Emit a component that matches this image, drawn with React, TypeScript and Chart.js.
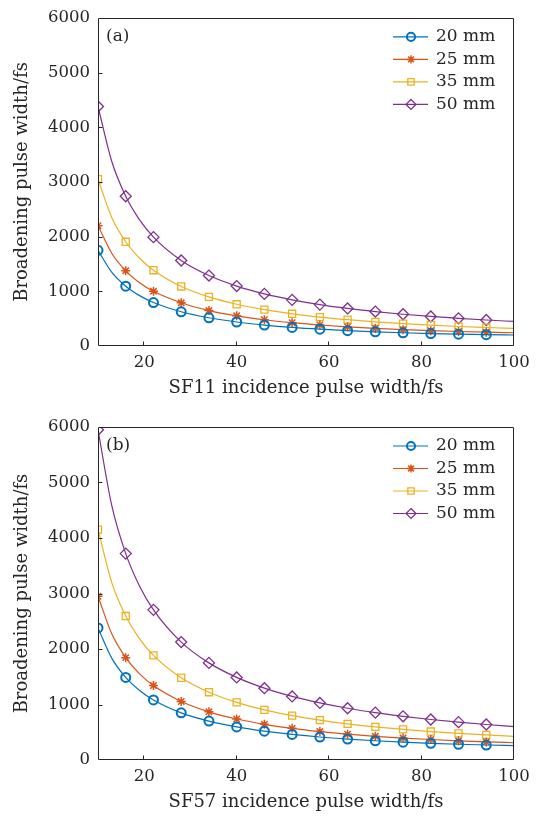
import React, { useEffect, useRef } from "react";
import { Chart, registerables } from "chart.js";

Chart.register(...registerables);

// ---- data ----
// curve sample positions (incidence pulse width, fs)
const X_VALUES = [10, 13, 16, 19, 22, 28, 34, 40, 46, 52, 58, 64, 70, 76, 82, 88, 94, 100];
// positions that carry a marker
const MARKER_X = [10, 16, 22, 28, 34, 40, 46, 52, 58, 64, 70, 76, 82, 88, 94];
const SERIES_NAMES = ["20 mm", "25 mm", "35 mm", "50 mm"];
const X_TICKS = [20, 40, 60, 80, 100];
const Y_TICKS = [0, 1000, 2000, 3000, 4000, 5000, 6000];

// SF11 (panel a)
const SF11_20 = [1750, 1346, 1094, 921, 795, 626, 516, 439, 383, 340, 307, 281, 260, 242, 228, 217, 208, 201];
const SF11_25 = [2200, 1692, 1375, 1158, 1000, 790, 648, 552, 480, 426, 384, 350, 322, 299, 280, 265, 252, 242];
const SF11_35 = [3050, 2346, 1906, 1605, 1386, 1089, 898, 763, 665, 589, 529, 481, 441, 408, 381, 357, 338, 321];
const SF11_50 = [4380, 3369, 2738, 2305, 1991, 1564, 1288, 1096, 953, 844, 757, 687, 630, 581, 540, 506, 475, 449];

// SF57 (panel b)
const SF57_20 = [2380, 1831, 1488, 1253, 1082, 850, 701, 596, 519, 461, 414, 377, 347, 322, 301, 284, 270, 258];
const SF57_25 = [2950, 2269, 1844, 1553, 1341, 1054, 868, 739, 643, 570, 512, 465, 427, 395, 369, 346, 326, 311];
const SF57_35 = [4150, 3192, 2594, 2184, 1886, 1482, 1221, 1038, 903, 800, 718, 651, 597, 551, 513, 480, 451, 427];
const SF57_50 = [5950, 4577, 3719, 3132, 2705, 2125, 1750, 1488, 1294, 1145, 1028, 932, 853, 787, 730, 682, 640, 603];

const Y_TITLE = "Broadening pulse width/fs";

// ---- styles ----
const COLORS = ["#0072BD", "#D95319", "#EDB120", "#7E2F8E"];
const MARKERS = ["circle", "star", "rect", "rectRot"];
const MARKER_R = [4.5, 4.5, 5, 5.5];
const MARKER_W = [2, 1.5, 1.3, 1.3];
const FONT = '"DejaVu Serif", "Liberation Serif", serif';
const TEXT = "#262626";

function drawMarker(ctx: CanvasRenderingContext2D, style: string, x: number, y: number, r: number) {
  ctx.beginPath();
  if (style === "circle") {
    ctx.arc(x, y, r, 0, Math.PI * 2);
  } else if (style === "star") {
    for (let k = 0; k < 4; k++) {
      const a = (k * Math.PI) / 4;
      ctx.moveTo(x - r * Math.cos(a), y - r * Math.sin(a));
      ctx.lineTo(x + r * Math.cos(a), y + r * Math.sin(a));
    }
  } else if (style === "rect") {
    const s = Math.SQRT1_2 * r;
    ctx.rect(x - s, y - s, 2 * s, 2 * s);
  } else {
    ctx.moveTo(x, y - r);
    ctx.lineTo(x + r, y);
    ctx.lineTo(x, y + r);
    ctx.lineTo(x - r, y);
    ctx.closePath();
  }
  ctx.stroke();
}

const framePlugin = {
  id: "frame",
  afterDatasetsDraw(chart: any, _args: any, opts: any) {
    const ctx: CanvasRenderingContext2D = chart.ctx;
    const { left, right, top, bottom } = chart.chartArea;
    ctx.save();
    ctx.strokeStyle = TEXT;
    ctx.lineWidth = 1;
    const L = Math.round(left) + 0.5;
    const R = Math.round(right) - 0.5;
    const T = Math.round(top) + 0.5;
    const B = Math.round(bottom) - 0.5;
    ctx.beginPath();
    ctx.rect(L, T, R - L, B - T);
    ctx.stroke();
    // inward ticks
    const xs = chart.scales.x;
    const ys = chart.scales.y;
    ctx.beginPath();
    xs.ticks.forEach((t: any) => {
      const px = Math.round(xs.getPixelForValue(t.value)) - 0.5;
      ctx.moveTo(px, B);
      ctx.lineTo(px, B - 4);
    });
    ys.ticks.forEach((t: any) => {
      const py = Math.round(ys.getPixelForValue(t.value)) + 0.5;
      if (py > T + 1 && py < B - 1) {
        ctx.moveTo(L, py);
        ctx.lineTo(L + 4, py);
      }
    });
    ctx.stroke();
    // y title (drawn by hand, centred on the axis)
    ctx.fillStyle = TEXT;
    ctx.font = `18px ${FONT}`;
    ctx.textBaseline = "middle";
    ctx.textAlign = "center";
    ctx.save();
    ctx.translate(22, (top + bottom) / 2);
    ctx.rotate(-Math.PI / 2);
    ctx.fillText(Y_TITLE, 0, 0);
    ctx.restore();
    // panel tag
    ctx.font = `17px ${FONT}`;
    ctx.textAlign = "left";
    ctx.fillText(opts.tag, left + 8, top + 19);
    // legend
    chart.data.datasets.forEach((ds: any, i: number) => {
      const y = top + 19 + i * 22.5;
      ctx.strokeStyle = COLORS[i];
      ctx.lineWidth = 1.2;
      ctx.beginPath();
      ctx.moveTo(right - 121, y);
      ctx.lineTo(right - 86, y);
      ctx.stroke();
      ctx.lineWidth = MARKER_W[i];
      drawMarker(ctx, MARKERS[i], right - 103, y, MARKER_R[i] * 0.9);
      ctx.fillStyle = TEXT;
      ctx.fillText(ds.label, right - 78, y);
    });
    ctx.restore();
  },
};

type PanelProps = {
  series: number[][];
  xTitle: string;
  tag: string;
  top: number;
  padTop: number;
  axisH: number;
  titlePadB: number;
};

function Panel({ series, xTitle, tag, top, padTop, axisH, titlePadB }: PanelProps) {
  const ref = useRef<HTMLCanvasElement>(null);
  useEffect(() => {
    const chart = new Chart(ref.current!, {
      type: "line",
      data: {
        datasets: series.map((vals, i) => ({
          label: SERIES_NAMES[i],
          data: X_VALUES.map((x, j) => ({ x, y: vals[j] })),
          borderColor: COLORS[i],
          borderWidth: 1.2,
          backgroundColor: "rgba(0,0,0,0)",
          pointStyle: MARKERS[i] as any,
          pointRadius: X_VALUES.map((x) => (MARKER_X.includes(x) ? MARKER_R[i] : 0)),
          pointBorderWidth: MARKER_W[i],
          pointBorderColor: COLORS[i],
          pointBackgroundColor: "rgba(0,0,0,0)",
          cubicInterpolationMode: "monotone" as const,
          fill: false,
          clip: 0,
        })),
      },
      options: {
        responsive: false,
        animation: false,
        devicePixelRatio: 1,
        events: [],
        layout: { padding: { left: 0, right: 23, top: padTop, bottom: 0 } },
        plugins: {
          legend: { display: false },
          tooltip: { enabled: false },
          frame: { tag },
        } as any,
        scales: {
          x: {
            type: "linear",
            min: 10,
            max: 100,
            grid: { display: false, drawTicks: false },
            border: { display: false },
            ticks: {
              color: TEXT,
              font: { family: FONT, size: 16.5 },
              padding: 7,
              maxRotation: 0,
              callback: (v: any) => String(v),
            },
            afterBuildTicks: (s: any) => {
              s.ticks = X_TICKS.map((v) => ({ value: v }));
            },
            afterFit: (s: any) => {
              s.height = axisH;
            },
            title: {
              display: true,
              text: xTitle,
              color: TEXT,
              font: { family: FONT, size: 18 },
              padding: { top: 0, bottom: titlePadB },
            },
          },
          y: {
            type: "linear",
            min: 0,
            max: 6000,
            grid: { display: false, drawTicks: false },
            border: { display: false },
            ticks: {
              color: TEXT,
              font: { family: FONT, size: 16.5 },
              padding: 8,
              stepSize: 1000,
              callback: (v: any) => String(v),
            },
            afterBuildTicks: (s: any) => {
              s.ticks = Y_TICKS.map((v) => ({ value: v }));
            },
            afterFit: (s: any) => {
              s.width = 98;
            },
          },
        },
      },
      plugins: [framePlugin as any],
    });
    return () => chart.destroy();
  }, []);
  return (
    <canvas
      ref={ref}
      width={537}
      height={408}
      style={{ position: "absolute", left: 0, top, width: 537, height: 408 }}
    />
  );
}

export default function App() {
  return (
    <div style={{ position: "absolute", left: 0, top: 0, width: 537, height: 816, background: "#fff" }}>
      <Panel
        series={[SF11_20, SF11_25, SF11_35, SF11_50]}
        xTitle="SF11 incidence pulse width/fs"
        tag="(a)"
        top={0}
        padTop={13}
        axisH={62}
        titlePadB={9}
      />
      <Panel
        series={[SF57_20, SF57_25, SF57_35, SF57_50]}
        xTitle="SF57 incidence pulse width/fs"
        tag="(b)"
        top={408}
        padTop={19}
        axisH={56}
        titlePadB={3}
      />
    </div>
  );
}
